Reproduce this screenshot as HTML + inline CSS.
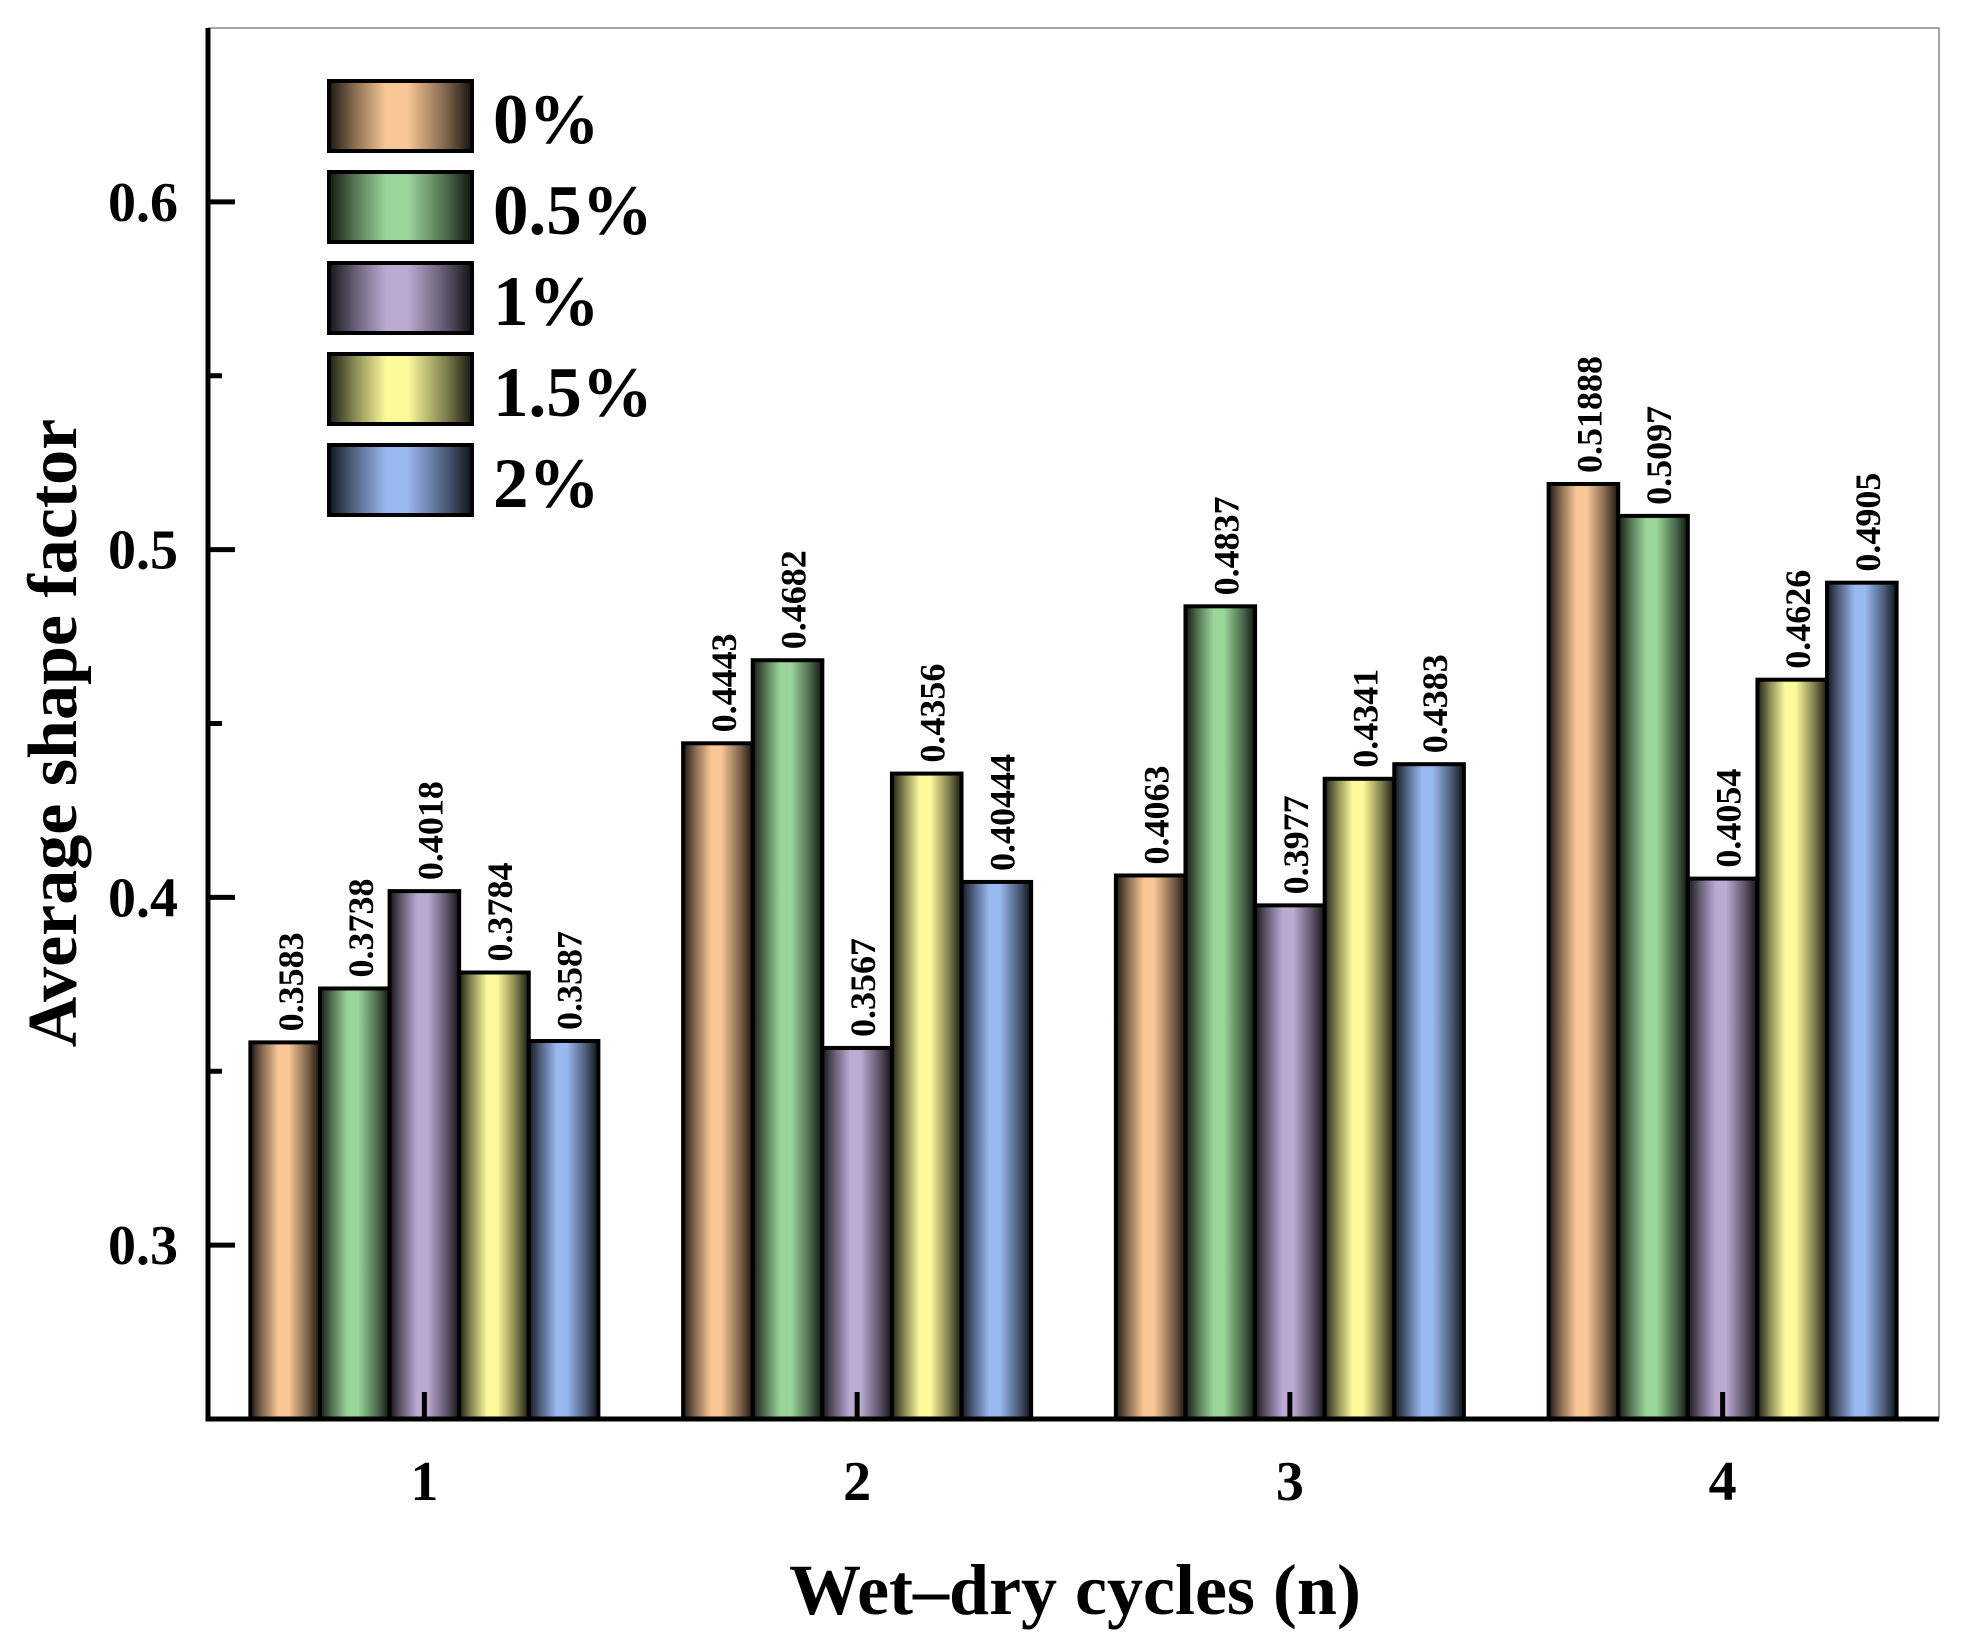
<!DOCTYPE html>
<html><head><meta charset="utf-8"><style>
html,body{margin:0;padding:0;background:#fff;}
svg{display:block;font-family:"Liberation Serif",serif;font-weight:bold;}
</style></head><body>
<svg id="chart" width="1964" height="1648" viewBox="0 0 1964 1648" xmlns="http://www.w3.org/2000/svg">
<defs id="defs"></defs>
<g id="plot"></g>
</svg>
<script>
const categories = ["1", "2", "3", "4"];
const seriesNames = ["0%", "0.5%", "1%", "1.5%", "2%"];
const s0 = [0.3583, 0.4443, 0.4063, 0.51888];
const s1 = [0.3738, 0.4682, 0.4837, 0.5097];
const s2 = [0.4018, 0.3567, 0.3977, 0.4054];
const s3 = [0.3784, 0.4356, 0.4341, 0.4626];
const s4 = [0.3587, 0.40444, 0.4383, 0.4905];
const l0 = ["0.3583", "0.4443", "0.4063", "0.51888"];
const l1 = ["0.3738", "0.4682", "0.4837", "0.5097"];
const l2 = ["0.4018", "0.3567", "0.3977", "0.4054"];
const l3 = ["0.3784", "0.4356", "0.4341", "0.4626"];
const l4 = ["0.3587", "0.40444", "0.4383", "0.4905"];
const yTicks = [0.3, 0.4, 0.5, 0.6];
const yTickLabels = ["0.3", "0.4", "0.5", "0.6"];
const yMinorTicks = [0.35, 0.45, 0.55];
const colors = ["#F9C795", "#9AD59A", "#BBAAD2", "#FBFB9C", "#99B8F0"];

const series = [s0, s1, s2, s3, s4];
const labels = [l0, l1, l2, l3, l4];
const NS = "http://www.w3.org/2000/svg";
const L = 208, R = 1939, T = 28, B = 1419;
const yMin = 0.25, yMax = 0.65, xMin = 0.5, xMax = 4.5;
function yS(v){ return B - (v - yMin) / (yMax - yMin) * (B - T); }
function xS(v){ return L + (v - xMin) / (xMax - xMin) * (R - L); }
const barW = 69.6;
const svg = document.getElementById('chart');
const defs = document.getElementById('defs');
const plot = document.getElementById('plot');
function mk(tag, attrs, parent){
  const e = document.createElementNS(NS, tag);
  for (const k in attrs) e.setAttribute(k, attrs[k]);
  (parent || svg).appendChild(e);
  return e;
}
function dark(hex, f){
  const n = parseInt(hex.slice(1), 16);
  const r = Math.round(((n>>16)&255)*f), g = Math.round(((n>>8)&255)*f), b = Math.round((n&255)*f);
  return `rgb(${r},${g},${b})`;
}
colors.forEach((c, i) => {
  const gr = mk('linearGradient', {id: 'g' + i, x1: '0', y1: '0', x2: '1', y2: '0'}, defs);
  mk('stop', {offset: '0', 'stop-color': dark(c, 0.12)}, gr);
  mk('stop', {offset: '0.18', 'stop-color': dark(c, 0.55)}, gr);
  mk('stop', {offset: '0.4', 'stop-color': c}, gr);
  mk('stop', {offset: '0.55', 'stop-color': c}, gr);
  mk('stop', {offset: '0.82', 'stop-color': dark(c, 0.5)}, gr);
  mk('stop', {offset: '1', 'stop-color': dark(c, 0.1)}, gr);
});

// frame top/right
const fr = mk('path', {d: `M${L},${T} H${R} V${B}`, fill: 'none', stroke: '#888', 'stroke-width': 1.5});



// bars
categories.forEach((cat, ci) => {
  const cx = xS(ci + 1);
  series.forEach((s, si) => {
    const x0 = cx - 2.5 * barW + si * barW;
    const yt = yS(s[ci]);
    const r = mk('rect', {x: x0, y: yt, width: barW, height: B - yt, fill: `url(#g${si})`, stroke: '#000', 'stroke-width': 4}, plot);
    
    
    const bx = x0 + barW / 2 + 18, by = yt - 11;
    const t = mk('text', {x: bx, y: by, transform: `rotate(-90 ${bx} ${by})`, 'font-size': 36, fill: '#000'}, plot);
    t.textContent = labels[si][ci];
    
    
  });
});

// axes
const ax = mk('path', {d: `M${L},${T} V${B} H${R}`, fill: 'none', stroke: '#000', 'stroke-width': 5});



yTicks.forEach((v, i) => {
  const y = yS(v);
  const tk = mk('line', {x1: L, x2: L + 27, y1: y, y2: y, stroke: '#000', 'stroke-width': 5});
  
  
  const t = mk('text', {x: 178, y: y + 19, 'text-anchor': 'end', 'font-size': 56});
  t.textContent = yTickLabels[i];
  
  
});
yMinorTicks.forEach(v => {
  const y = yS(v);
  const tk = mk('line', {x1: L, x2: L + 14, y1: y, y2: y, stroke: '#000', 'stroke-width': 5});
  
  
});
categories.forEach((c, i) => {
  const x = xS(i + 1);
  const tk = mk('line', {x1: x, x2: x, y1: B, y2: B - 27, stroke: '#000', 'stroke-width': 5});
  
  
  const t = mk('text', {x: x, y: 1500, 'text-anchor': 'middle', 'font-size': 56});
  t.textContent = c;
  
  
});

// titles
const yt = mk('text', {x: 76, y: 733, 'text-anchor': 'middle', 'font-size': 70, transform: 'rotate(-90 76 733)'});
yt.textContent = 'Average shape factor';


const xt = mk('text', {x: 1075, y: 1614, 'text-anchor': 'middle', 'font-size': 72});
xt.textContent = 'Wet\u2013dry cycles (n)';



// legend
const lg = mk('g', {});


seriesNames.forEach((n, i) => {
  const y = 81 + i * 91;
  const e = mk('g', {}, lg);
  
  
  mk('rect', {x: 329, y: y, width: 143, height: 70, fill: `url(#g${i})`, stroke: '#000', 'stroke-width': 4}, e);
  const t = mk('text', {x: 493, y: y + 62, 'font-size': 71}, e);
  t.textContent = n;
});
</script>
</body></html>
